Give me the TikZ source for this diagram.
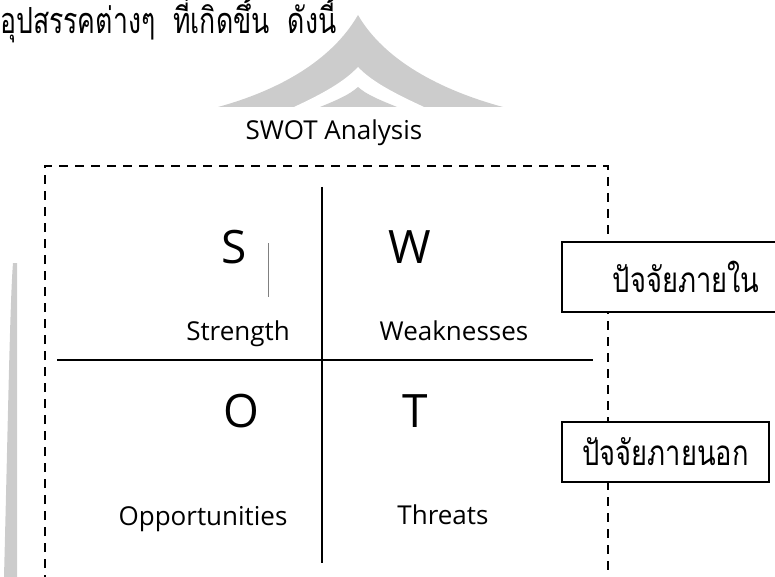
\documentclass[tikz,border=0pt]{standalone}
\usepackage{fontspec}
\setmainfont{Open Sans}
\newfontfamily\thaifont[Script=Thai,FakeStretch=0.78]{Loma}
\newfontfamily\thaitop[Script=Thai,FakeStretch=0.74]{Loma}
\tikzset{
  dashbox/.style={line width=2pt,dash pattern=on 9pt off 7pt},
  factorbox/.style={draw,line width=1.8pt,fill=white,inner sep=0pt,font=\thaifont\fontsize{35}{40}\selectfont},
  letter/.style={anchor=base,font=\fontsize{46}{50}\selectfont},
  label/.style={anchor=base,font=\fontsize{26}{30}\selectfont},
  watermark/.style={fill=black!20,draw=none}
}
\begin{document}
\begin{tikzpicture}[x=1pt,y=-1pt]
  \useasboundingbox (0,0) rectangle (775,577);

  % background shapes
  \fill[watermark] (218,107) .. controls (280,90) and (332,60) .. (358,15)
     .. controls (384,60) and (440,90) .. (503,107) -- cycle;
  \fill[white] (294,107) .. controls (322,94) and (344,82) .. (358,67)
     .. controls (372,82) and (396,94) .. (424,107) -- cycle;
  \fill[watermark] (320,107) .. controls (337,100) and (349,95) .. (358,87)
     .. controls (367,95) and (380,100) .. (397,107) -- cycle;
  \fill[watermark] (17,263) -- (17,577) -- (4,577) .. controls (8,420) and (10,300) .. (13,263) -- cycle;

  \node[anchor=base west,inner sep=0pt,font=\thaitop\fontsize{36}{40}\selectfont] (intro) at (0,34)
     {อุปสรรคต่างๆ~~ที่เกิดขึ้น~~ดังนี้};
  \node[label] (title) at (334,140) {SWOT Analysis};

  \coordinate (tl) at (45,166);
  \coordinate (tr) at (608,166);
  \coordinate (bl) at (45,600);
  \coordinate (br) at (608,600);
  \draw[dashbox] (bl) -- (tl) -- (tr) -- (br);

  \coordinate (hl) at (57,360);
  \coordinate (hr) at (593,360);
  \coordinate (vt) at (322,187);
  \coordinate (vb) at (322,563);
  \draw[line width=1.2pt] (hl) -- (hr);
  \draw[line width=1.2pt] (vt) -- (vb);

  \node[letter] (s) at (234,263) {S};
  \node[letter] (w) at (410,263) {W};
  \node[letter] (o) at (241,427) {O};
  \node[letter] (t) at (415,427) {T};
  \node[label] (strength) at (238,340) {Strength};
  \node[label] (weak) at (454,340) {Weaknesses};
  \node[label] (opp) at (203,525) {Opportunities};
  \node[label] (threat) at (443,524) {Threats};

  % stray cursor mark
  \coordinate (ct) at (268,243);
  \coordinate (cb) at (268,297);
  \draw[gray,line width=.6pt] (ct) -- (cb);

  \node[factorbox,minimum width=248,minimum height=70] (inside) at (686,277) {ปัจจัยภายใน};
  \node[factorbox,minimum width=207,minimum height=60] (outside) at (665.5,452) {ปัจจัยภายนอก};
\end{tikzpicture}
\end{document}
